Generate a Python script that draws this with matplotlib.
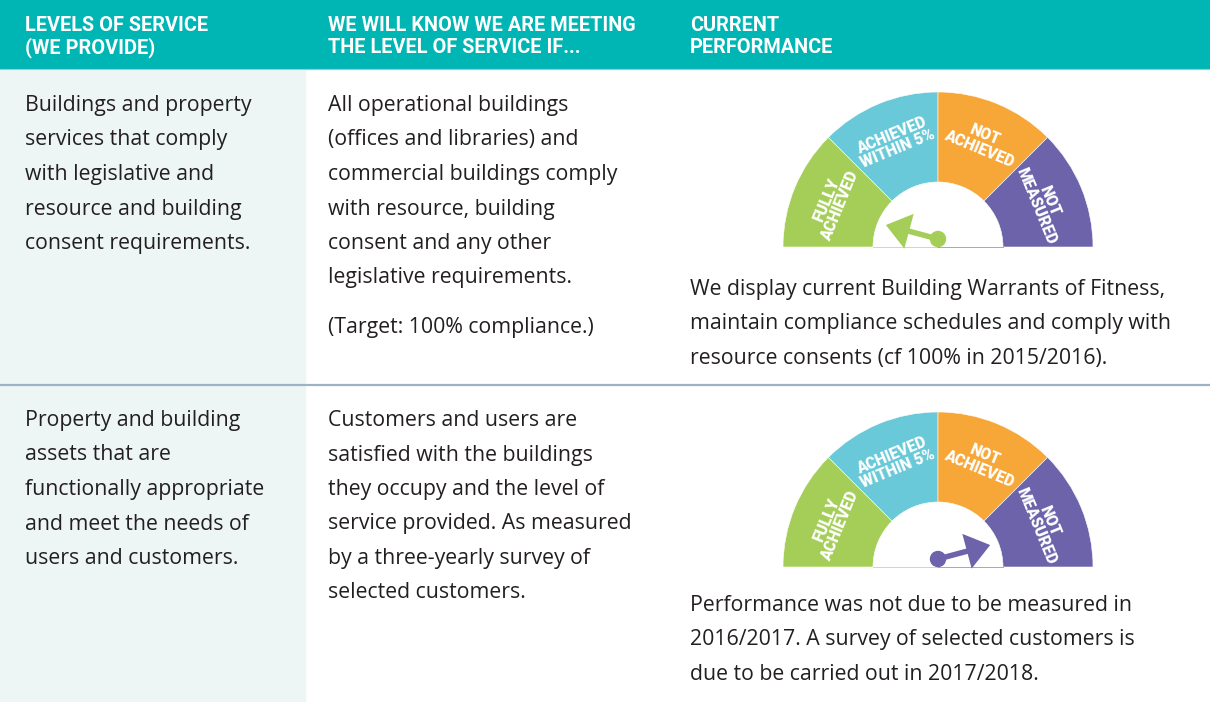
import matplotlib
matplotlib.use("Agg")
import matplotlib.pyplot as plt
from matplotlib.patches import Wedge, Rectangle, Circle, FancyArrow
import numpy as np

# ---------------- data ----------------
headers = [
    ["LEVELS OF SERVICE", "(WE PROVIDE)"],
    ["WE WILL KNOW WE ARE MEETING", "THE LEVEL OF SERVICE IF..."],
    ["CURRENT", "PERFORMANCE"],
]
row1_level = ["Buildings and property", "services that comply", "with legislative and",
              "resource and building", "consent requirements."]
row1_measure = ["All operational buildings", "(offices and libraries) and",
                "commercial buildings comply", "with resource, building",
                "consent and any other", "legislative requirements."]
row1_target = "(Target: 100% compliance.)"
row1_perf = ["We display current Building Warrants of Fitness,",
             "maintain compliance schedules and comply with",
             "resource consents (cf 100% in 2015/2016)."]
row2_level = ["Property and building", "assets that are", "functionally appropriate",
              "and meet the needs of", "users and customers."]
row2_measure = ["Customers and users are", "satisfied with the buildings",
                "they occupy and the level of", "service provided. As measured",
                "by a three-yearly survey of", "selected customers."]
row2_perf = ["Performance was not due to be measured in",
             "2016/2017. A survey of selected customers is",
             "due to be carried out in 2017/2018."]

gauge_categories = ["FULLY\nACHIEVED", "ACHIEVED\nWITHIN 5%", "NOT\nACHIEVED", "NOT\nMEASURED"]
gauge_colors = ["#A5CE58", "#69C9D8", "#F7A638", "#6D63AA"]
needle_angles = [165, 15]          # degrees, 180 = far left, 0 = far right
needle_colors = ["#A5CE58", "#6D63AA"]

# ---------------- figure ----------------
W, H = 1210, 702
fig = plt.figure(figsize=(W / 100, H / 100), dpi=100)
ax = fig.add_axes([0, 0, 1, 1])
ax.set_xlim(0, W)
ax.set_ylim(0, H)
ax.set_aspect("equal")
ax.axis("off")


def Y(py):
    return H - py


TEXT = "#231F20"
BODY_FONT = "Open Sans"
BODY_SIZE = 15.3
LS = 34.5

# header bar
ax.add_patch(Rectangle((0, Y(68)), W, 68, color="#00B6B4", zorder=1))
ax.plot([0, W], [Y(68.5), Y(68.5)], color="#A8C8C8", lw=0.8, zorder=2)
# left column background
ax.add_patch(Rectangle((0, 0), 305, Y(69), color="#EDF6F5", zorder=0))
# row divider
ax.plot([0, W], [Y(385), Y(385)], color="#9DB2C3", lw=1.6, zorder=2)

# header texts
for x, pair in zip([25, 328, 690], headers):
    for j, t in enumerate(pair):
        ax.text(x, Y(31 + j * 22), t, color="white", fontsize=14.3, fontweight="bold",
                family="Roboto", ha="left", va="baseline", zorder=3)


def lines(x, y0, items):
    for i, s in enumerate(items):
        ax.text(x, Y(y0 + i * LS), s, color=TEXT, fontsize=BODY_SIZE,
                family=BODY_FONT, ha="left", va="baseline", zorder=3)


lines(25, 111, row1_level)
lines(328, 111, row1_measure)
lines(328, 333, [row1_target])
lines(690, 295, row1_perf)
lines(25, 426, row2_level)
lines(328, 426, row2_measure)
lines(690, 611, row2_perf)


def gauge(cx, cy_px, needle_deg, ncol):
    cy = Y(cy_px)
    R, r = 155, 65
    n = len(gauge_categories)
    step = 180 / n
    for i, (lab, col) in enumerate(zip(gauge_categories, gauge_colors)):
        t2 = 180 - i * step
        t1 = t2 - step
        ax.add_patch(Wedge((cx, cy), R, t1, t2, width=R - r, facecolor=col,
                           edgecolor="white", lw=0.4, zorder=2))
        mid = np.deg2rad((t1 + t2) / 2)
        rl = 114
        ax.text(cx + rl * np.cos(mid), cy + rl * np.sin(mid), lab,
                rotation=np.rad2deg(mid) - 90, rotation_mode="anchor",
                ha="center", va="center", multialignment="center",
                color="white", fontsize=11.2, fontweight="black", family="Roboto",
                linespacing=0.92, zorder=3)
    # faint baseline across inner circle
    ax.plot([cx - r, cx], [cy + 0.5, cy + 0.5], color=gauge_colors[0], lw=0.7, alpha=0.6, zorder=2)
    ax.plot([cx, cx + r], [cy + 0.5, cy + 0.5], color=gauge_colors[-1], lw=0.7, alpha=0.6, zorder=2)
    # needle
    hx, hy = cx, cy + 8
    a = np.deg2rad(needle_deg)
    L = 54
    ax.add_patch(FancyArrow(hx, hy, L * np.cos(a), L * np.sin(a), width=5.5,
                            head_width=36, head_length=24, length_includes_head=True,
                            color=ncol, lw=0, zorder=4))
    ax.add_patch(Circle((hx, hy), 7.5, color=ncol, zorder=5))


gauge(938, 247, needle_angles[0], needle_colors[0])
gauge(938, 567, needle_angles[1], needle_colors[1])

fig.savefig("out.png", dpi=100, facecolor="white")
